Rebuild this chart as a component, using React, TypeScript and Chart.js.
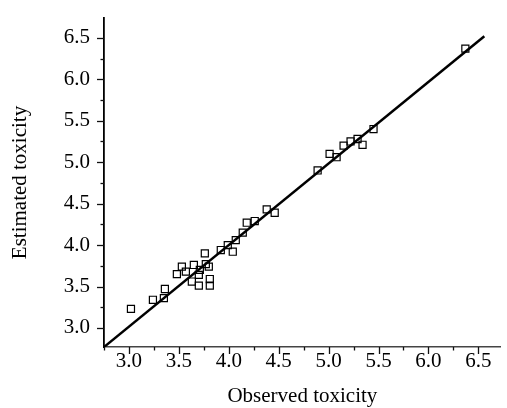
import React, { useEffect, useRef } from "react";
import { Chart, registerables } from "chart.js";

Chart.register(...registerables);

const observed = [
  3.02, 3.24, 3.36, 3.35, 3.48, 3.53, 3.57, 3.63, 3.65, 3.7, 3.7, 3.71, 3.76, 3.77, 3.8, 3.81, 3.81,
  3.92, 3.99, 4.04, 4.07, 4.14, 4.18, 4.26, 4.38, 4.46, 4.89, 5.01, 5.08, 5.15, 5.22, 5.29, 5.34,
  5.45, 6.37,
];
const estimated = [
  3.23, 3.34, 3.47, 3.36, 3.65, 3.74, 3.68, 3.56, 3.76, 3.64, 3.51, 3.7, 3.9, 3.77, 3.74, 3.59, 3.51,
  3.94, 4.0, 3.92, 4.06, 4.15, 4.27, 4.29, 4.43, 4.39, 4.9, 5.1, 5.06, 5.2, 5.25, 5.28, 5.21,
  5.4, 6.37,
];
const fitX = [2.75, 6.56];
const fitY = [2.77, 6.52];
const majorTicks = [3.0, 3.5, 4.0, 4.5, 5.0, 5.5, 6.0, 6.5];
const minorTicks = [2.75, 3.25, 3.75, 4.25, 4.75, 5.25, 5.75, 6.25];

const FONT = "'Liberation Serif', 'Times New Roman', serif";

const tickPlugin = {
  id: "customTicks",
  afterDraw(chart: any) {
    const ctx = chart.ctx;
    const xs = chart.scales.x;
    const ys = chart.scales.y;
    const area = chart.chartArea;
    ctx.save();
    ctx.lineWidth = 1.3;
    ctx.strokeStyle = "#111";
    const draw = (vals: number[], len: number) => {
      vals.forEach((v) => {
        const px = Math.round(xs.getPixelForValue(v)) + 0.5;
        if (px >= area.left && px <= area.right + 1) {
          ctx.beginPath();
          ctx.moveTo(px, area.bottom);
          ctx.lineTo(px, area.bottom + len);
          ctx.stroke();
        }
        const py = Math.round(ys.getPixelForValue(v)) + 0.5;
        if (py >= area.top - 1 && py <= area.bottom) {
          ctx.beginPath();
          ctx.moveTo(area.left, py);
          ctx.lineTo(area.left - len, py);
          ctx.stroke();
        }
      });
    };
    draw(majorTicks, 7);
    draw(minorTicks, 3.5);
    ctx.restore();
  },
};

export default function App() {
  const ref = useRef<HTMLCanvasElement>(null);
  useEffect(() => {
    document.body.style.margin = "0";
    const points = observed.map((x, i) => ({ x, y: estimated[i] }));
    const fit = fitX.map((x, i) => ({ x, y: fitY[i] }));
    const chart = new Chart(ref.current!, {
      type: "scatter",
      data: {
        datasets: [
          {
            type: "line",
            data: fit,
            borderColor: "#000",
            borderWidth: 2.5,
            pointRadius: 0,
            fill: false,
          } as any,
          {
            data: points,
            pointStyle: "rect",
            pointRadius: 5,
            pointBorderWidth: 1.2,
            pointBorderColor: "#000",
            pointBackgroundColor: "rgba(255,255,255,0)",
          },
        ],
      },
      options: {
        animation: false,
        responsive: false,
        events: [],
        layout: { padding: { top: 18, right: 0, left: 0, bottom: 0 } },
        plugins: { legend: { display: false }, tooltip: { enabled: false } },
        scales: {
          x: {
            type: "linear",
            min: 2.75,
            max: 6.725,
            grid: { display: false, drawTicks: false },
            border: { display: true, color: "#444", width: 1.5 },
            afterBuildTicks: (s: any) => {
              s.ticks = majorTicks.map((v) => ({ value: v }));
            },
            afterFit: (s: any) => {
              s.height = 61;
              s.paddingLeft = 0;
              s.paddingRight = 0;
            },
            ticks: {
              color: "#000",
              padding: 2,
              maxRotation: 0,
              font: { family: FONT, size: 21 },
              callback: (v: any) => Number(v).toFixed(1),
            },
            title: {
              display: true,
              text: "Observed toxicity",
              color: "#000",
              font: { family: FONT, size: 21 },
              padding: { top: 0, bottom: -1 },
            },
          },
          y: {
            type: "linear",
            min: 2.77,
            max: 6.74,
            grid: { display: false, drawTicks: false },
            border: { display: true, color: "#000", width: 1.8 },
            afterBuildTicks: (s: any) => {
              s.ticks = majorTicks.map((v) => ({ value: v }));
            },
            afterFit: (s: any) => {
              s.width = 104;
              s.paddingTop = 0;
              s.paddingBottom = 0;
            },
            ticks: {
              color: "#000",
              padding: 14,
              font: { family: FONT, size: 21 },
              callback: (v: any) => Number(v).toFixed(1),
            },
            title: {
              display: true,
              text: "Estimated toxicity",
              color: "#000",
              font: { family: FONT, size: 21 },
              padding: { top: 8, bottom: 0 },
            },
          },
        },
      },
      plugins: [tickPlugin],
    });
    return () => chart.destroy();
  }, []);
  return (
    <div style={{ width: 507, height: 408 }}>
      <canvas ref={ref} width={507} height={408} style={{ display: "block" }} />
    </div>
  );
}
